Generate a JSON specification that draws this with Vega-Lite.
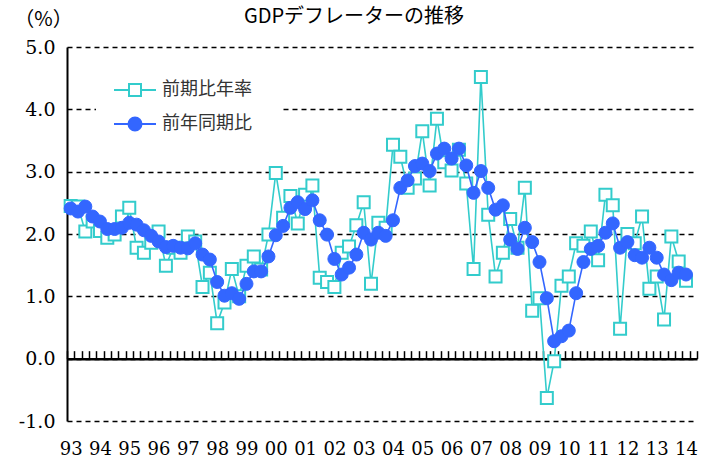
{
  "$schema": "https://vega.github.io/schema/vega-lite/v6.json",
  "width": 630,
  "height": 374,
  "autosize": "none",
  "padding": {"left": 67, "top": 47, "right": 5, "bottom": 41},
  "background": "white",
  "config": {"view": {"stroke": null}},
  "title": {"text": "GDPデフレーターの推移", "font": "Noto Sans CJK JP", "fontSize": 20, "fontWeight": "normal", "color": "#000", "anchor": "middle", "dx": -28, "offset": -18},
  "data": {"values": [
    {"t":1993,"前期比年率":2.45,"前年同期比":2.41},
    {"t":1993.25,"前期比年率":2.44,"前年同期比":2.36},
    {"t":1993.5,"前期比年率":2.04,"前年同期比":2.44},
    {"t":1993.75,"前期比年率":2.2,"前年同期比":2.28},
    {"t":1994,"前期比年率":2.05,"前年同期比":2.2},
    {"t":1994.25,"前期比年率":1.94,"前年同期比":2.08},
    {"t":1994.5,"前期比年率":1.99,"前年同期比":2.08},
    {"t":1994.75,"前期比年率":2.28,"前年同期比":2.1},
    {"t":1995,"前期比年率":2.42,"前年同期比":2.18},
    {"t":1995.25,"前期比年率":1.78,"前年同期比":2.15},
    {"t":1995.5,"前期比年率":1.7,"前年同期比":2.06},
    {"t":1995.75,"前期比年率":1.86,"前年同期比":1.97},
    {"t":1996,"前期比年率":2.04,"前年同期比":1.88},
    {"t":1996.25,"前期比年率":1.49,"前年同期比":1.79},
    {"t":1996.5,"前期比年率":1.78,"前年同期比":1.81},
    {"t":1996.75,"前期比年率":1.7,"前年同期比":1.78},
    {"t":1997,"前期比年率":1.96,"前年同期比":1.77},
    {"t":1997.25,"前期比年率":1.88,"前年同期比":1.85},
    {"t":1997.5,"前期比年率":1.15,"前年同期比":1.67},
    {"t":1997.75,"前期比年率":1.38,"前年同期比":1.59},
    {"t":1998,"前期比年率":0.57,"前年同期比":1.23},
    {"t":1998.25,"前期比年率":0.9,"前年同期比":1.01},
    {"t":1998.5,"前期比年率":1.44,"前年同期比":1.05},
    {"t":1998.75,"前期比年率":1.0,"前年同期比":0.96},
    {"t":1999,"前期比年率":1.49,"前年同期比":1.2},
    {"t":1999.25,"前期比年率":1.64,"前年同期比":1.4},
    {"t":1999.5,"前期比年率":1.43,"前年同期比":1.4},
    {"t":1999.75,"前期比年率":1.99,"前年同期比":1.64},
    {"t":2000,"前期比年率":2.98,"前年同期比":1.98},
    {"t":2000.25,"前期比年率":2.26,"前年同期比":2.13},
    {"t":2000.5,"前期比年率":2.61,"前年同期比":2.42},
    {"t":2000.75,"前期比年率":2.17,"前年同期比":2.51},
    {"t":2001,"前期比年率":2.63,"前年同期比":2.4},
    {"t":2001.25,"前期比年率":2.78,"前年同期比":2.54},
    {"t":2001.5,"前期比年率":1.3,"前年同期比":2.22},
    {"t":2001.75,"前期比年率":1.23,"前年同期比":1.99},
    {"t":2002,"前期比年率":1.15,"前年同期比":1.6},
    {"t":2002.25,"前期比年率":1.7,"前年同期比":1.35},
    {"t":2002.5,"前期比年率":1.8,"前年同期比":1.46},
    {"t":2002.75,"前期比年率":2.14,"前年同期比":1.67},
    {"t":2003,"前期比年率":2.51,"前年同期比":2.02},
    {"t":2003.25,"前期比年率":1.2,"前年同期比":1.91},
    {"t":2003.5,"前期比年率":2.18,"前年同期比":2.02},
    {"t":2003.75,"前期比年率":2.1,"前年同期比":1.97},
    {"t":2004,"前期比年率":3.43,"前年同期比":2.22},
    {"t":2004.25,"前期比年率":3.24,"前年同期比":2.74},
    {"t":2004.5,"前期比年率":2.74,"前年同期比":2.86},
    {"t":2004.75,"前期比年率":2.89,"前年同期比":3.09},
    {"t":2005,"前期比年率":3.65,"前年同期比":3.13},
    {"t":2005.25,"前期比年率":2.78,"前年同期比":3.01},
    {"t":2005.5,"前期比年率":3.85,"前年同期比":3.29},
    {"t":2005.75,"前期比年率":3.15,"前年同期比":3.37},
    {"t":2006,"前期比年率":3.02,"前年同期比":3.21},
    {"t":2006.25,"前期比年率":3.35,"前年同期比":3.37},
    {"t":2006.5,"前期比年率":2.81,"前年同期比":3.1},
    {"t":2006.75,"前期比年率":1.44,"前年同期比":2.66},
    {"t":2007,"前期比年率":4.52,"前年同期比":3.01},
    {"t":2007.25,"前期比年率":2.31,"前年同期比":2.74},
    {"t":2007.5,"前期比年率":1.32,"前年同期比":2.39},
    {"t":2007.75,"前期比年率":1.7,"前年同期比":2.46},
    {"t":2008,"前期比年率":2.24,"前年同期比":1.91},
    {"t":2008.25,"前期比年率":1.78,"前年同期比":1.76},
    {"t":2008.5,"前期比年率":2.74,"前年同期比":2.1},
    {"t":2008.75,"前期比年率":0.77,"前年同期比":1.87},
    {"t":2009,"前期比年率":0.97,"前年同期比":1.55},
    {"t":2009.25,"前期比年率":-0.63,"前年同期比":0.97},
    {"t":2009.5,"前期比年率":-0.04,"前年同期比":0.28},
    {"t":2009.75,"前期比年率":1.17,"前年同期比":0.36},
    {"t":2010,"前期比年率":1.32,"前年同期比":0.45},
    {"t":2010.25,"前期比年率":1.85,"前年同期比":1.05},
    {"t":2010.5,"前期比年率":1.81,"前年同期比":1.55},
    {"t":2010.75,"前期比年率":2.04,"前年同期比":1.76},
    {"t":2011,"前期比年率":1.58,"前年同期比":1.81},
    {"t":2011.25,"前期比年率":2.63,"前年同期比":2.02},
    {"t":2011.5,"前期比年率":2.46,"前年同期比":2.17},
    {"t":2011.75,"前期比年率":0.48,"前年同期比":1.78},
    {"t":2012,"前期比年率":2.0,"前年同期比":1.87},
    {"t":2012.25,"前期比年率":1.85,"前年同期比":1.66},
    {"t":2012.5,"前期比年率":2.28,"前年同期比":1.62},
    {"t":2012.75,"前期比年率":1.12,"前年同期比":1.78},
    {"t":2013,"前期比年率":1.32,"前年同期比":1.62},
    {"t":2013.25,"前期比年率":0.63,"前年同期比":1.35},
    {"t":2013.5,"前期比年率":1.96,"前年同期比":1.26},
    {"t":2013.75,"前期比年率":1.56,"前年同期比":1.38},
    {"t":2014,"前期比年率":1.25,"前年同期比":1.35}
  ]},
  "transform": [{"fold": ["前期比年率", "前年同期比"], "as": ["series", "value"]}],
  "resolve": {"axis": {"x": "independent"}},
  "layer": [
    {
      "transform": [{"filter": "datum.series === '前期比年率'"}],
      "mark": {"type": "line", "color": "#33CCCC", "strokeWidth": 1.6},
      "encoding": {
        "x": {"field": "t", "type": "quantitative", "scale": {"domain": [1992.875, 2014.375], "nice": false, "zero": false},
          "axis": {"orient": "bottom", "values": [1993,1994,1995,1996,1997,1998,1999,2000,2001,2002,2003,2004,2005,2006,2007,2008,2009,2010,2011,2012,2013,2014],
            "labelExpr": "substring(toString(datum.value), 2, 4)", "domain": false, "ticks": false, "grid": false,
            "labelFont": "DejaVu Serif", "labelFontSize": 18, "labelColor": "#000", "labelPadding": 19, "labelFlush": false, "labelOverlap": false, "title": null}},
        "y": {"field": "value", "type": "quantitative", "scale": {"domain": [-1, 5], "nice": false, "zero": false},
          "axis": {"values": [-1,0,1,2,3,4,5], "labelExpr": "(datum.value < 0 ? '-' : '') + format(abs(datum.value), '.1f')",
            "domain": true, "domainColor": "#000", "domainWidth": 2, "ticks": false,
            "grid": true, "gridColor": "#000", "gridWidth": 1.5, "gridDash": [5, 4], "gridOpacity": 1,
            "labelFont": "DejaVu Serif", "labelFontSize": 19, "labelColor": "#000", "labelPadding": 12,
            "title": "（%）", "titleAngle": 0, "titleX": -24, "titleY": -28, "titleAlign": "center", "titleBaseline": "middle",
            "titleFont": "Noto Sans CJK JP", "titleFontSize": 20, "titleFontWeight": "normal", "titleColor": "#000"}}
      }
    },
    {
      "transform": [{"filter": "datum.series === '前期比年率'"}],
      "mark": {"type": "point", "shape": "square", "filled": true, "fill": "#FFFFFF", "stroke": "#33CCCC", "size": 144, "strokeWidth": 2, "opacity": 1},
      "encoding": {
        "x": {"field": "t", "type": "quantitative",
          "axis": {"orient": "bottom", "offset": -62.33, "values": [1992.875,1993.125,1993.375,1993.625,1993.875,1994.125,1994.375,1994.625,1994.875,1995.125,1995.375,1995.625,1995.875,1996.125,1996.375,1996.625,1996.875,1997.125,1997.375,1997.625,1997.875,1998.125,1998.375,1998.625,1998.875,1999.125,1999.375,1999.625,1999.875,2000.125,2000.375,2000.625,2000.875,2001.125,2001.375,2001.625,2001.875,2002.125,2002.375,2002.625,2002.875,2003.125,2003.375,2003.625,2003.875,2004.125,2004.375,2004.625,2004.875,2005.125,2005.375,2005.625,2005.875,2006.125,2006.375,2006.625,2006.875,2007.125,2007.375,2007.625,2007.875,2008.125,2008.375,2008.625,2008.875,2009.125,2009.375,2009.625,2009.875,2010.125,2010.375,2010.625,2010.875,2011.125,2011.375,2011.625,2011.875,2012.125,2012.375,2012.625,2012.875,2013.125,2013.375,2013.625,2013.875,2014.125,2014.375],
            "labels": false, "grid": false, "domain": true, "domainColor": "#000", "domainWidth": 2.5,
            "ticks": true, "tickSize": -8, "tickColor": "#000", "tickWidth": 1.5, "title": null}},
        "y": {"field": "value", "type": "quantitative"}
      }
    },
    {
      "transform": [{"filter": "datum.series === '前年同期比'"}],
      "mark": {"type": "line", "color": "#3366FF", "strokeWidth": 1.6},
      "encoding": {
        "x": {"field": "t", "type": "quantitative", "axis": null},
        "y": {"field": "value", "type": "quantitative"}
      }
    },
    {
      "transform": [{"filter": "datum.series === '前年同期比'"}],
      "mark": {"type": "point", "shape": "circle", "filled": true, "fill": "#3366FF", "stroke": "#3366FF", "size": 169, "strokeWidth": 1, "opacity": 1},
      "encoding": {
        "x": {"field": "t", "type": "quantitative", "axis": null},
        "y": {"field": "value", "type": "quantitative"}
      }
    },
    {
      "mark": {"type": "point", "filled": true, "opacity": 0, "size": 400, "strokeWidth": 2},
      "encoding": {
        "x": {"field": "t", "type": "quantitative", "axis": null},
        "y": {"field": "value", "type": "quantitative"},
        "shape": {"field": "series", "type": "nominal",
          "scale": {"domain": ["前期比年率", "前年同期比"], "range": ["M-2.1,0H-0.6M0.6,0H2.1M-0.6,-0.6H0.6V0.6H-0.6Z", "M-2.1,0H2.1M-0.65,0A0.65,0.65,0,1,0,0.65,0A0.65,0.65,0,1,0,-0.65,0Z"]},
          "legend": {"orient": "none", "legendX": 29, "legendY": 4, "title": null, "fillColor": "white", "padding": 28,
            "symbolSize": 400, "symbolStrokeWidth": 2, "symbolOpacity": 1, "labelOffset": 16, "rowPadding": 13,
            "labelFont": "Noto Sans CJK JP", "labelFontSize": 18, "labelColor": "#333", "labelLimit": 300,
            "encode": {"symbols": {"opacity": {"value": 1}, "size": {"value": 400}, "strokeWidth": {"value": 2}}}}},
        "fill": {"field": "series", "type": "nominal", "scale": {"domain": ["前期比年率", "前年同期比"], "range": ["#FFFFFF", "#3366FF"]}},
        "stroke": {"field": "series", "type": "nominal", "scale": {"domain": ["前期比年率", "前年同期比"], "range": ["#33CCCC", "#3366FF"]}}
      }
    }
  ]
}
